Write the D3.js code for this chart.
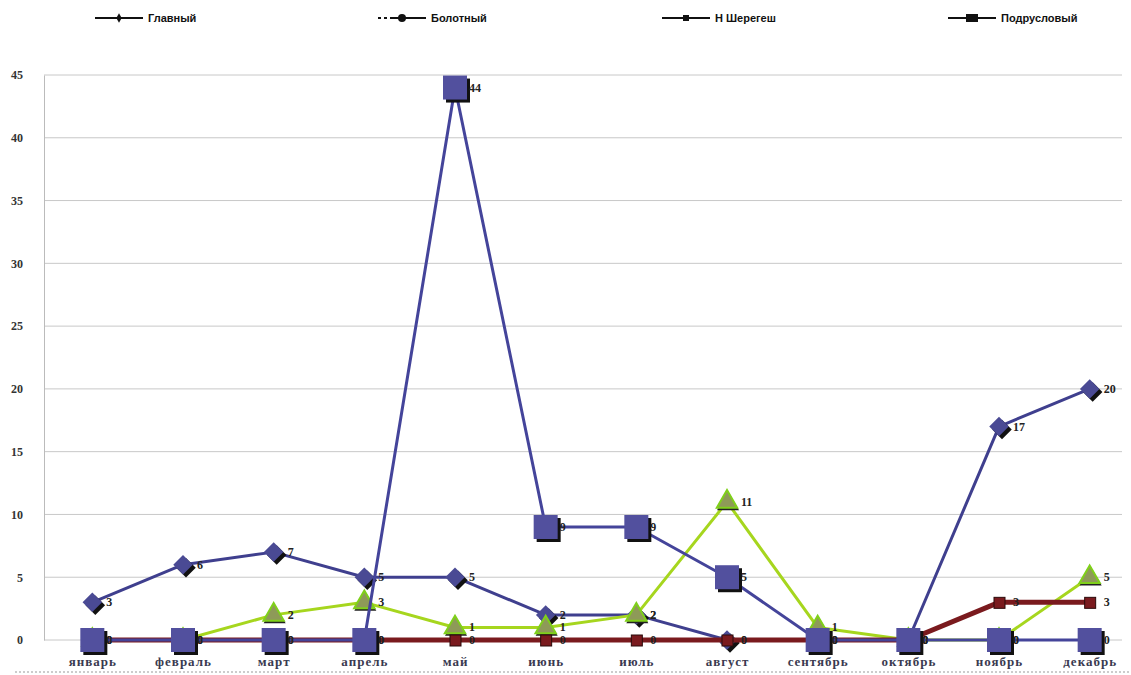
<!DOCTYPE html>
<html>
<head>
<meta charset="utf-8">
<script src="https://cdn.jsdelivr.net/npm/d3@7"></script>
<style>
  body { margin: 0; background: #fff; }
  svg { display: block; }
</style>
</head>
<body>
<div id="chart"></div>
<script>
// Months on the x axis
var months = ["январь", "февраль", "март", "апрель", "май", "июнь", "июль", "август", "сентябрь", "октябрь", "ноябрь", "декабрь"];

// Series values
var glavnyi = [3, 6, 7, 5, 5, 2, 2, 0, 0, 0, 17, 20];
var bolotnyi = [0, 0, 2, 3, 1, 1, 2, 11, 1, 0, 0, 5];
var nSheregesh = [0, 0, 0, 0, 0, 0, 0, 0, 0, 0, 3, 3];
var podruslovyi = [0, 0, 0, 0, 44, 9, 9, 5, 0, 0, 0, 0];

var seriesNames = ["Главный", "Болотный", "Н Шерегеш", "Подрусловый"];
var yTicks = [0, 5, 10, 15, 20, 25, 30, 35, 40, 45];

var width = 1131, height = 675;

var svg = d3.select("#chart")
    .append("svg")
    .attr("width", width)
    .attr("height", height);

var x = d3.scalePoint().domain(months).range([47, 1135]).padding(0.5);
var y = d3.scaleLinear().domain([0, 45]).range([640, 75]);

// grid lines
svg.append("g").selectAll("line")
    .data(yTicks)
    .enter().append("line")
    .attr("x1", 44).attr("x2", 1122)
    .attr("y1", function(d) { return y(d); })
    .attr("y2", function(d) { return y(d); })
    .attr("stroke", "#c8c8c8")
    .attr("stroke-width", 1);

// y axis
var yAxis = svg.append("g")
    .attr("transform", "translate(44,0)")
    .call(d3.axisLeft(y).tickValues(yTicks).tickSize(0).tickPadding(21));
yAxis.select(".domain").attr("stroke", "#bbb");
yAxis.selectAll("text")
    .attr("font-family", "Liberation Serif")
    .attr("font-weight", "bold")
    .attr("font-size", 12)
    .attr("fill", "#333");

// x axis labels
var xAxis = svg.append("g")
    .attr("transform", "translate(0,651)")
    .call(d3.axisBottom(x).tickSize(0).tickPadding(6));
xAxis.select(".domain").remove();
xAxis.selectAll("text")
    .attr("font-family", "Liberation Serif")
    .attr("font-weight", "bold")
    .attr("font-size", 13)
    .attr("letter-spacing", 1)
    .attr("fill", "#3a3a50");

// dotted line under labels
svg.append("line")
    .attr("x1", 15).attr("x2", 1131)
    .attr("y1", 672).attr("y2", 672)
    .attr("stroke", "#999")
    .attr("stroke-dasharray", "2,2");

var line = d3.line()
    .x(function(d, i) { return x(months[i]); })
    .y(function(d) { return y(d); });

var series = [
    { name: seriesNames[0], values: glavnyi, color: "#3f3f8e", width: 3, marker: "diamond" },
    { name: seriesNames[1], values: bolotnyi, color: "#a6d61e", width: 3, marker: "triangle" },
    { name: seriesNames[2], values: nSheregesh, color: "#7a1a1e", width: 5, marker: "small" },
    { name: seriesNames[3], values: podruslovyi, color: "#44449a", width: 3, marker: "square" }
];

var drawMarker = function (g, type, cx, cy) {
    if (type == "diamond") {
        g.append("path").attr("d", d3.symbol().type(d3.symbolSquare).size(190)())
            .attr("transform", "translate(" + (cx + 3) + "," + (cy + 3) + ") rotate(45)")
            .attr("fill", "#111");
        g.append("path").attr("d", d3.symbol().type(d3.symbolSquare).size(190)())
            .attr("transform", "translate(" + cx + "," + cy + ") rotate(45)")
            .attr("fill", "#4a4a94");
    } else if (type == "triangle") {
        g.append("path").attr("d", d3.symbol().type(d3.symbolTriangle).size(210)())
            .attr("transform", "translate(" + (cx + 1) + "," + (cy + 2) + ")")
            .attr("fill", "#222");
        g.append("path").attr("d", d3.symbol().type(d3.symbolTriangle).size(180)())
            .attr("transform", "translate(" + cx + "," + cy + ")")
            .attr("fill", "#8e9a58")
            .attr("stroke", "#7fd01a")
            .attr("stroke-width", 2);
    } else if (type == "small") {
        g.append("rect").attr("x", cx - 5).attr("y", cy - 5).attr("width", 11).attr("height", 11)
            .attr("fill", "#7a1a1e").attr("stroke", "#2a0a0a").attr("stroke-width", 1);
    } else if (type == "square") {
        g.append("rect").attr("x", cx - 9).attr("y", cy - 9).attr("width", 24).attr("height", 24)
            .attr("fill", "#111");
        g.append("rect").attr("x", cx - 12).attr("y", cy - 12).attr("width", 24).attr("height", 24)
            .attr("fill", "#52509e");
    }
};

series.forEach(function (s) {
    var g = svg.append("g");
    g.append("path")
        .datum(s.values)
        .attr("d", line)
        .attr("fill", "none")
        .attr("stroke", s.color)
        .attr("stroke-width", s.width)
        .attr("stroke-linejoin", "round");
    s.values.forEach(function (v, i) {
        drawMarker(g, s.marker, x(months[i]), y(v));
    });
    g.selectAll(".lbl")
        .data(s.values)
        .enter().append("text")
        .attr("x", function(d, i) { return x(months[i]) + 14; })
        .attr("y", function(d) { return y(d) + 4; })
        .attr("font-family", "Liberation Serif")
        .attr("font-weight", "bold")
        .attr("font-size", 12)
        .attr("fill", "#222")
        .text(function(d) { return d; });
});

// legend
var legendX = [95, 378, 662, 948];
var legend = svg.append("g");
series.forEach(function (s, i) {
    var lx = legendX[i], ly = 18;
    legend.append("line")
        .attr("x1", lx).attr("x2", lx + 48)
        .attr("y1", ly).attr("y2", ly)
        .attr("stroke", "#111").attr("stroke-width", 2)
        .attr("stroke-dasharray", i == 1 ? "3,3,3,3,40" : null);
    if (i == 0) {
        legend.append("path").attr("d", d3.symbol().type(d3.symbolDiamond).size(25)())
            .attr("transform", "translate(" + (lx + 24) + "," + ly + ")").attr("fill", "#111");
    } else if (i == 1) {
        legend.append("circle").attr("cx", lx + 24).attr("cy", ly).attr("r", 4).attr("fill", "#111");
    } else if (i == 2) {
        legend.append("rect").attr("x", lx + 21).attr("y", ly - 3).attr("width", 6).attr("height", 6).attr("fill", "#111");
    } else {
        legend.append("rect").attr("x", lx + 18).attr("y", ly - 4).attr("width", 12).attr("height", 8).attr("fill", "#111");
    }
    legend.append("text")
        .attr("x", lx + 53).attr("y", ly + 4)
        .attr("font-family", "Liberation Sans Narrow, Liberation Sans")
        .attr("font-weight", "bold")
        .attr("font-size", 11)
        .attr("fill", "#111")
        .text(s.name);
});
</script>
</body>
</html>
